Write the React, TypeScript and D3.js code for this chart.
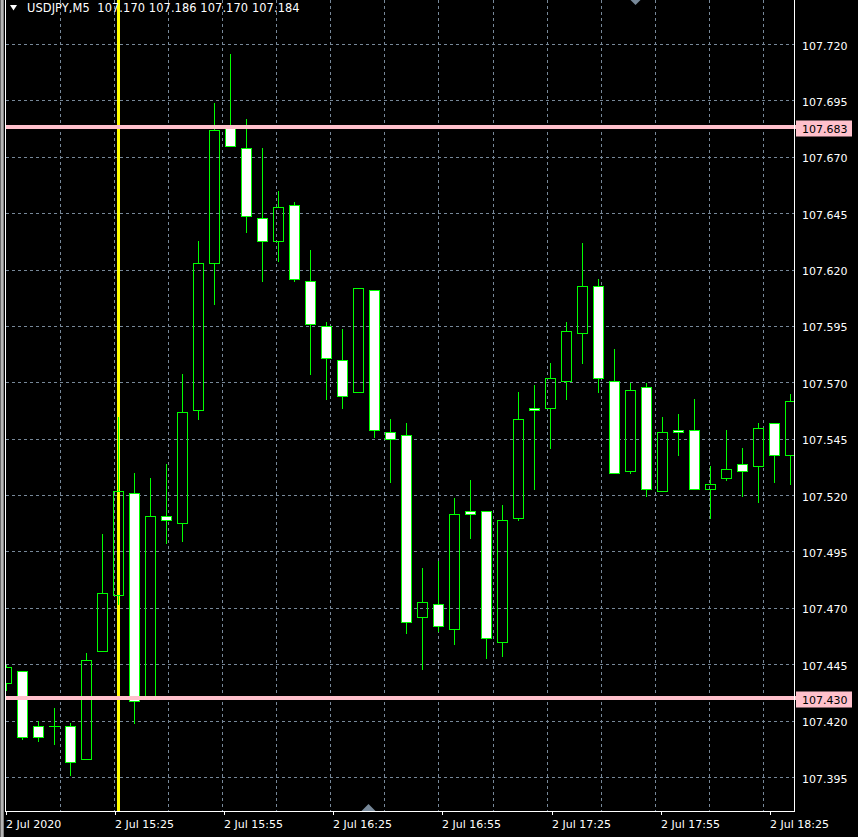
import React, { useEffect } from 'react';
import * as d3 from 'd3';

const W = 858;
const H = 837;

const headerText = 'USDJPY,M5  107.170 107.186 107.170 107.184';
const priceTicks = [107.395, 107.42, 107.445, 107.47, 107.495, 107.52, 107.545, 107.57, 107.595, 107.62, 107.645, 107.67, 107.695, 107.72];
const timeLabels = ['2 Jul 2020', '2 Jul 15:25', '2 Jul 15:55', '2 Jul 16:25', '2 Jul 16:55', '2 Jul 17:25', '2 Jul 17:55', '2 Jul 18:25'];
const levelLines = [107.683, 107.43];
const separatorBar = 7;

const openP = [107.437, 107.442, 107.418, 107.418, 107.418, 107.403, 107.451, 107.476, 107.521, 107.431,
  107.511, 107.508, 107.558, 107.623, 107.683, 107.674, 107.643, 107.633, 107.649, 107.615,
  107.595, 107.580, 107.566, 107.611, 107.548, 107.547, 107.466, 107.472, 107.461, 107.513,
  107.513, 107.455, 107.510, 107.559, 107.559, 107.571, 107.592, 107.613, 107.571, 107.531,
  107.568, 107.522, 107.549, 107.549, 107.523, 107.528, 107.534, 107.533, 107.552, 107.538];
const highP = [107.445, 107.442, 107.420, 107.426, 107.419, 107.450, 107.503, 107.555, 107.530, 107.528,
  107.534, 107.574, 107.633, 107.694, 107.716, 107.687, 107.674, 107.655, 107.650, 107.629,
  107.597, 107.594, 107.612, 107.611, 107.554, 107.552, 107.488, 107.491, 107.519, 107.527,
  107.513, 107.516, 107.566, 107.569, 107.579, 107.597, 107.632, 107.616, 107.585, 107.570,
  107.570, 107.555, 107.556, 107.563, 107.533, 107.549, 107.541, 107.552, 107.552, 107.565];
const lowP = [107.434, 107.412, 107.411, 107.410, 107.396, 107.403, 107.451, 107.472, 107.419, 107.431,
  107.499, 107.500, 107.554, 107.605, 107.675, 107.637, 107.615, 107.624, 107.615, 107.574,
  107.563, 107.559, 107.566, 107.546, 107.526, 107.459, 107.443, 107.460, 107.454, 107.501,
  107.448, 107.449, 107.509, 107.523, 107.541, 107.563, 107.579, 107.566, 107.530, 107.530,
  107.520, 107.522, 107.538, 107.523, 107.510, 107.527, 107.520, 107.517, 107.526, 107.525];
const closeP = [107.444, 107.413, 107.413, 107.418, 107.402, 107.447, 107.477, 107.522, 107.429, 107.511,
  107.509, 107.557, 107.623, 107.682, 107.675, 107.644, 107.633, 107.648, 107.616, 107.596,
  107.581, 107.564, 107.612, 107.549, 107.545, 107.464, 107.473, 107.462, 107.512, 107.512,
  107.457, 107.509, 107.554, 107.558, 107.572, 107.593, 107.613, 107.572, 107.530, 107.567,
  107.523, 107.548, 107.548, 107.523, 107.525, 107.532, 107.531, 107.550, 107.538, 107.562];

const FONT = "'DejaVu Sans', Verdana, sans-serif";
const GREEN = '#00ff00';
const GRID = '#778899';
const PINK = '#ffc0cb';

export default function App() {
  useEffect(() => {
    document.body.style.margin = '0';
    document.body.style.background = '#000';
  }, []);

  const plotL = 5;
  const plotR = 794;
  const plotB = 811;

  const y = d3.scaleLinear().domain([107.395, 107.72]).range([777.5, 44.5]);
  const x = d3.scaleLinear().domain([0, openP.length - 1]).range([6, 6 + 16 * (openP.length - 1)]);
  const xTime = d3.scaleLinear().domain([0, timeLabels.length - 1]).range([6, 770.4]);
  const gridX = d3.range(1, 15).map((k) => Math.floor(6.4 + 54.07 * k) + 0.5);

  const candles = openP.map((o, i) => {
    const c = closeP[i];
    const h = highP[i];
    const l = lowP[i];
    const cx = Math.round(x(i));
    const top = Math.round(y(Math.max(o, c)));
    const bot = Math.round(y(Math.min(o, c)));
    const hy = Math.round(y(h));
    const ly = Math.round(y(l));
    const bear = c < o;
    return (
      <g key={i}>
        {hy < top && <line x1={cx + 0.5} x2={cx + 0.5} y1={hy} y2={top} stroke={GREEN} strokeWidth={1} />}
        {ly > bot && <line x1={cx + 0.5} x2={cx + 0.5} y1={bot + 1} y2={ly + 1} stroke={GREEN} strokeWidth={1} />}
        {top === bot ? (
          <line x1={cx - 5} x2={cx + 6} y1={top + 0.5} y2={top + 0.5} stroke={GREEN} strokeWidth={1} />
        ) : (
          <rect x={cx - 4.5} y={top + 0.5} width={10} height={bot - top} fill={bear ? '#ffffff' : 'none'} stroke={GREEN} strokeWidth={1} />
        )}
      </g>
    );
  });

  return (
    <svg width={W} height={H} style={{ position: 'absolute', left: 0, top: 0, display: 'block', background: '#000' }} fontFamily={FONT}>
      <defs>
        <clipPath id="plotClip">
          <rect x={plotL + 1} y={0} width={plotR - plotL - 1} height={plotB} />
        </clipPath>
      </defs>
      <rect x={0} y={0} width={W} height={H} fill="#000" />

      {/* vertical grid */}
      {gridX.map((gx, i) => (
        <line key={'vg' + i} x1={gx} x2={gx} y1={0} y2={plotB} stroke={GRID} strokeWidth={1} strokeDasharray="3,3" />
      ))}
      {/* horizontal grid */}
      {priceTicks.map((p, i) => (
        <line key={'hg' + i} x1={plotL + 1} x2={plotR} y1={Math.round(y(p) - 0.5) + 0.5} y2={Math.round(y(p) - 0.5) + 0.5} stroke={GRID} strokeWidth={1} strokeDasharray="3,3" />
      ))}

      {/* vertical separator line */}
      <rect x={Math.round(x(separatorBar)) - 1} y={0} width={3} height={plotB} fill="#ffff00" />

      {/* candles */}
      <g clipPath="url(#plotClip)">{candles}</g>

      {/* horizontal level lines */}
      {levelLines.map((p, i) => (
        <rect key={'ll' + i} x={plotL + 1} y={Math.round(y(p)) - 3} width={796 - plotL - 1} height={4} fill={PINK} />
      ))}

      {/* left border */}
      <rect x={0} y={0} width={1} height={H} fill="#696969" />
      <rect x={1} y={0} width={2} height={H} fill="#b4b4b4" />
      <rect x={3} y={0} width={1} height={H} fill="#808080" />
      <line x1={plotL + 0.5} x2={plotL + 0.5} y1={0} y2={plotB + 1} stroke="#fff" strokeWidth={1} />

      {/* axes */}
      <line x1={plotR + 0.5} x2={plotR + 0.5} y1={0} y2={plotB + 1} stroke="#fff" strokeWidth={1} />
      <line x1={plotL} x2={plotR + 1} y1={plotB + 0.5} y2={plotB + 0.5} stroke="#fff" strokeWidth={1} />

      {/* price labels */}
      {priceTicks.map((p, i) => (
        <text key={'pl' + i} x={802} y={Math.round(y(p)) + 4.5} fill="#fff" fontSize={11}>
          {p.toFixed(3)}
        </text>
      ))}
      {levelLines.map((p, i) => (
        <g key={'lb' + i}>
          <rect x={796} y={Math.round(y(p)) - 7.5} width={56} height={16} fill={PINK} />
          <text x={802} y={Math.round(y(p)) + 5} fill="#000" fontSize={11}>
            {p.toFixed(3)}
          </text>
        </g>
      ))}

      {/* time labels */}
      {timeLabels.map((t, i) => {
        const tx = Math.floor(xTime(i));
        return (
          <g key={'tl' + i}>
            <line x1={tx + 0.5} x2={tx + 0.5} y1={plotB} y2={plotB + 4} stroke="#fff" strokeWidth={1} />
            <text x={tx} y={828} fill="#fff" fontSize={11}>
              {t}
            </text>
          </g>
        );
      })}

      {/* shift markers */}
      <polygon points="630.5,0 640.5,0 635.5,5" fill={GRID} />
      <polygon points="361.5,811 375.5,811 368.5,804" fill={GRID} />

      {/* header */}
      <polygon points="10,5 17,5 13.5,10.5" fill="#fff" />
      <text x={27} y={12} fill="#fff" fontSize={11.4} style={{ whiteSpace: 'pre', letterSpacing: '0.1px' }}>
        {headerText}
      </text>
    </svg>
  );
}
